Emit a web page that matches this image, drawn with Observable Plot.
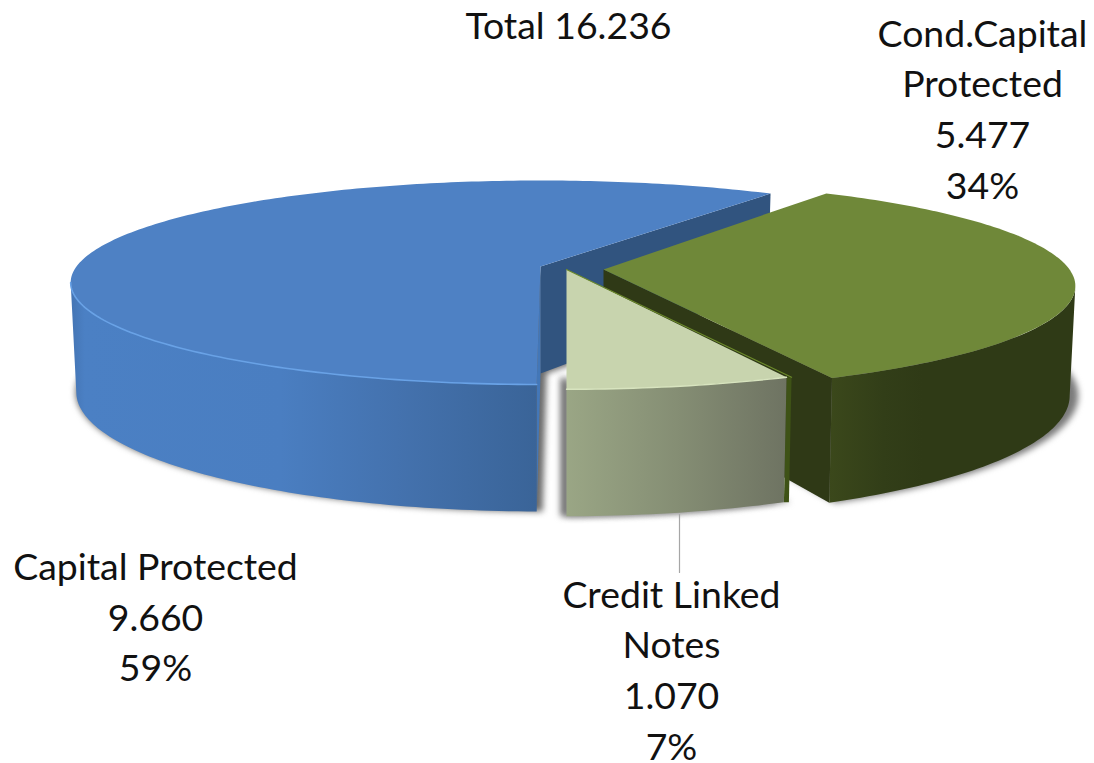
<!DOCTYPE html>
<html>
<head>
<meta charset="utf-8">
<script src="https://cdn.jsdelivr.net/npm/d3@7"></script>
<script src="https://cdn.jsdelivr.net/npm/@observablehq/plot@0.6"></script>
<style>html,body{margin:0;padding:0;background:#fff}svg{display:block}</style>
</head>
<body>
<div id="chart"></div>
<script>
// Data
const categories = ["Capital Protected", "Cond.Capital Protected", "Credit Linked Notes"];
const valueLabels = ["9.660", "5.477", "1.070"];
const values = [9.660, 5.477, 1.070];
const percents = ["59%", "34%", "7%"];
const totalLabel = "Total 16.236";

// 3D view of the pie
const persp = 0.157, depth = 107, shrink = 0.988, baseB = 99.5, startAngle = 90.4;
const views = [
  {cx: 540, cy: 266, a: 464, b: 1,     nudge0: 0,    nudge1: -0.9},
  {cx: 603, cy: 269, a: 466, b: 1.03,  nudge0: -2.2, nudge1: -1.5},
  {cx: 566, cy: 269, a: 464, b: 1.015, nudge0: -0.6, nudge1: -0.4}
];
const sum = d3.sum(values);
let acc = startAngle;
const slices = values.map((v, i) => {
  const t0 = acc; acc += v / sum * 360;
  return {...views[i], t0: t0 + views[i].nudge0, t1: acc + views[i].nudge1};
});
const rad = Math.PI / 180;
function P(s, deg, ring = false, k = 1, dx = 0) {
  const u = Math.sin(deg * rad), c = Math.cos(deg * rad), d = 1 - persp * u;
  return {
    x: s.cx + dx + (s.a * c / d) * (ring ? shrink : 1) * k,
    y: s.cy + baseB * s.b * u / d + (ring ? depth / d : 0)
  };
}
const arc = (s, a0, a1, ring, k, dx) => {
  const n = Math.max(2, Math.ceil(Math.abs(a1 - a0)));
  return d3.range(n + 1).map(i => P(s, a0 + (a1 - a0) * i / n, ring, k, dx));
};
const apex = (s, ring = false, dx = 0) => ({x: s.cx + dx, y: s.cy + (ring ? depth : 0)});
const [blue, green, pale] = slices;
const edgeAngle = Math.asin(persp) / rad;

const topFace = s => [apex(s), ...arc(s, s.t0, s.t1)];
const baseFace = (s, k, dx) => [apex(s, true, dx), ...arc(s, s.t0, s.t1, true, k, dx)];
const wall = (s, a0, a1) => [...arc(s, a0, a1), ...arc(s, a0, a1, true).reverse()];
const quad = (...p) => p;

function poly(points, fill, extra = {}) {
  return Plot.line(points, {x: "x", y: "y", fill, stroke: "none", curve: "linear", ...extra});
}
function stroke(points, color, strokeWidth) {
  return Plot.line(points, {x: "x", y: "y", stroke: color, strokeWidth, curve: "linear", fill: "none"});
}

function gradient(id, stops) {
  return `<linearGradient id="${id}" x1="0" x2="1" y1="0" y2="0">` +
    stops.map(([o, c]) => `<stop offset="${o}" stop-color="${c}"/>`).join("") + `</linearGradient>`;
}
const defs = () => {
  const d = d3.create("svg:defs");
  d.html(
    gradient("gBlue", [[0, "#4474b3"], [0.03, "#4b80c4"], [0.45, "#4a7ec1"], [0.7, "#4472ae"], [1, "#3a6498"]]) +
    gradient("gGreen", [[0, "#3b481b"], [0.22, "#323e18"], [0.38, "#2f3a16"], [1, "#2f3a16"]]) +
    gradient("gPale", [[0, "#9aa685"], [0.5, "#858e74"], [1, "#6e7362"]])
  );
  return d.node();
};

const blur = {imageFilter: "blur(3px)"};
const labelLines = i => {
  const name = i === 0 ? "Capital Protected" : i === 1 ? "Cond.Capital\nProtected" : "Credit Linked\nNotes";
  return `${name}\n${valueLabels[i]}\n${percents[i]}`;
};
const labels = [
  {x: 155, y: 618, text: labelLines(0)},
  {x: 982, y: 110, text: labelLines(1)},
  {x: 671, y: 671, text: labelLines(2)},
  {x: 568, y: 26, text: totalLabel}
];
const leader = [{x: 679, y: 514}, {x: 679, y: 572}];

const P0 = P(pale, pale.t0), P0b = P(pale, pale.t0, true);
const plot = Plot.plot({
  width: 1094, height: 763, margin: 0,
  x: {domain: [0, 1094], range: [0, 1094], axis: null},
  y: {domain: [0, 763], range: [0, 763], axis: null},
  style: {background: "#fff"},
  marks: [
    defs,
    // soft shadows under the slices
    poly(baseFace(blue, 1.014, 6), "#6a6a6a", blur),
    poly(baseFace(green, 1.012, 3), "#7a7a7a", blur),
    poly(baseFace(pale, 1.0, -6), "#6a6a6a", blur),
    poly(baseFace(pale, 1.03, 0), "#9a9a9a", blur),
    // blue slice
    poly(quad(apex(blue), P(blue, blue.t1), P(blue, blue.t1, true), apex(blue, true)), "#31547f"),
    poly(quad(apex(blue), apex(blue, true), P(blue, blue.t0, true), P(blue, blue.t0)), "#4377b8"),
    poly(wall(blue, blue.t0, 180 - edgeAngle), "url(#gBlue)"),
    poly(topFace(blue), "#4e81c4"),
    stroke(arc(blue, blue.t0, 180 - edgeAngle), "#69a2e6", 1.6),
    // green slice
    poly(quad(apex(green), P(green, green.t1), P(green, green.t1, true), apex(green, true)), "#2f3916"),
    poly(wall(green, 360 + edgeAngle, green.t1), "url(#gGreen)"),
    poly(topFace(green), "#6f8839"),
    // pale slice
    poly(quad(P0, {x: P0.x + 5, y: P0.y}, {x: P0b.x + 5, y: P0b.y}, P0b), "#3e5216"),
    poly(wall(pale, pale.t0, pale.t1), "url(#gPale)"),
    poly(topFace(pale), "#c8d4ae"),
    stroke(arc(pale, pale.t0, pale.t1), "#d8e4bf", 1.4),
    stroke([apex(pale), {x: P0.x + 5, y: P0.y}], "#6c8a2c", 1.2),
    // labels
    Plot.line(leader, {x: "x", y: "y", stroke: "#a6a6a6", strokeWidth: 1.2}),
    Plot.text(labels, {x: "x", y: "y", dy: -4, text: "text", fontSize: 37.4, lineHeight: 1.355, fontFamily: "Lato", fill: "#111", textAnchor: "middle"})
  ]
});
document.getElementById("chart").append(plot);
</script>
</body>
</html>
